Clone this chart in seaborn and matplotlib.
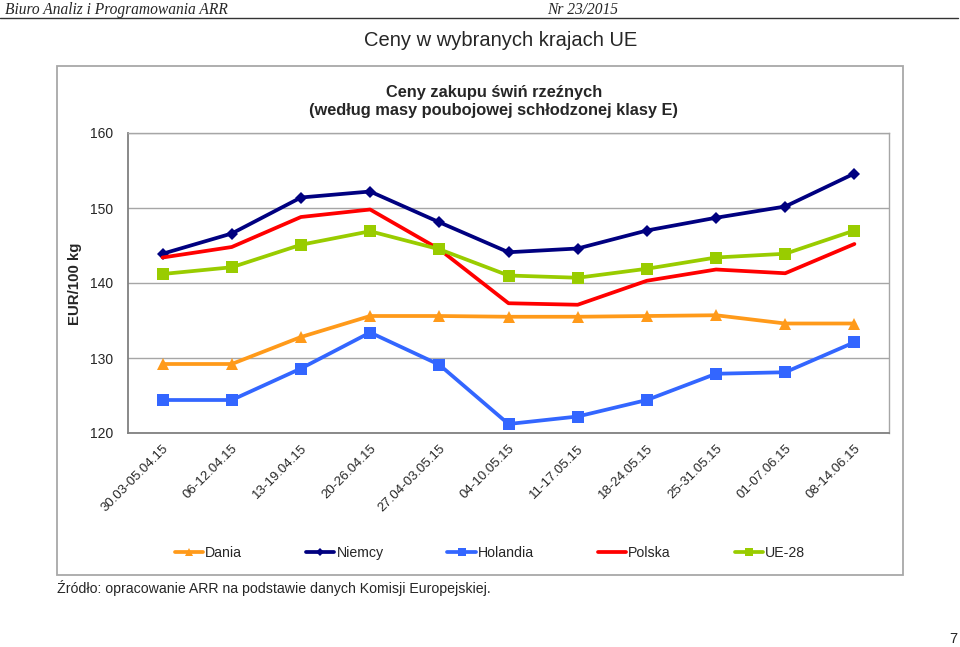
import matplotlib
matplotlib.use("Agg")
import matplotlib.pyplot as plt
import matplotlib.transforms as mtransforms
import seaborn as sns
import pandas as pd
from matplotlib.patches import Rectangle
from matplotlib.lines import Line2D

# ---- data ----
weeks = ["30.03-05.04.15", "06-12.04.15", "13-19.04.15", "20-26.04.15",
         "27.04-03.05.15", "04-10.05.15", "11-17.05.15", "18-24.05.15",
         "25-31.05.15", "01-07.06.15", "08-14.06.15"]
dania = [129.2, 129.2, 132.8, 135.6, 135.6, 135.5, 135.5, 135.6, 135.7, 134.6, 134.6]
niemcy = [143.9, 146.6, 151.4, 152.2, 148.1, 144.1, 144.6, 147.0, 148.7, 150.2, 154.6]
holandia = [124.4, 124.4, 128.6, 133.4, 129.1, 121.2, 122.2, 124.4, 127.9, 128.1, 132.1]
polska = [143.4, 144.8, 148.8, 149.8, 144.5, 137.3, 137.1, 140.3, 141.8, 141.3, 145.2]
ue28 = [141.2, 142.1, 145.1, 146.9, 144.5, 141.0, 140.7, 141.9, 143.4, 143.9, 147.0]
y_ticks = [120, 130, 140, 150, 160]

series_names = ["Dania", "Niemcy", "Holandia", "Polska", "UE-28"]
series_vals = [dania, niemcy, holandia, polska, ue28]

# ---- styles ----
styles = {
    "Dania":    dict(color="#FF9A1A", marker="^", ms=8.5),
    "Niemcy":   dict(color="#000080", marker="D", ms=6.0),
    "Holandia": dict(color="#3366FF", marker="s", ms=8.0),
    "Polska":   dict(color="#FF0000", marker=None, ms=0),
    "UE-28":    dict(color="#99CC00", marker="s", ms=8.6),
}

sns.set_style("white")
plt.rcParams["font.family"] = ["Liberation Sans", "DejaVu Sans"]

W, H = 960, 647
fig = plt.figure(figsize=(W / 100, H / 100), dpi=100)
fig.patch.set_facecolor("white")

def fx(px):
    return px / W

def fy(py):
    return 1 - py / H

# chart box
fig.add_artist(Rectangle((fx(57), fy(575)), (903 - 57) / W, (575 - 66) / H,
                         transform=fig.transFigure, fill=False,
                         edgecolor="#A8A8A8", linewidth=1.3))

ax = fig.add_axes([fx(128), fy(433), (889 - 128) / W, (433 - 133) / H])
ax.set_facecolor("white")

rows = []
for name, vals in zip(series_names, series_vals):
    for i, (w, v) in enumerate(zip(weeks, vals)):
        rows.append(dict(seria=name, tydzien=w, idx=i, cena=v))
df = pd.DataFrame(rows)

for name in series_names:
    st = styles[name]
    sub = df[df["seria"] == name]
    sns.lineplot(data=sub, x="idx", y="cena", ax=ax, color=st["color"],
                 linewidth=2.7, marker=st["marker"], markersize=st["ms"],
                 markeredgewidth=0, legend=False, zorder=3)

ax.set_xlim(-0.5, len(weeks) - 0.5)
ax.set_ylim(y_ticks[0], y_ticks[-1])
ax.set_yticks(y_ticks)
ax.set_xticks(range(len(weeks)))
ax.set_xticks([i - 0.5 for i in range(len(weeks) + 1)], minor=True)
ax.set_xticklabels(weeks, rotation=45, ha="right", va="top",
                   rotation_mode="anchor", fontsize=9.5)
offset = mtransforms.ScaledTranslation(3 / 100, 0, fig.dpi_scale_trans)
for lbl in ax.get_xticklabels():
    lbl.set_transform(lbl.get_transform() + offset)
ax.tick_params(axis="x", which="major", length=0, pad=7)
ax.tick_params(axis="x", which="minor", length=4, color="#808080", width=1)
ax.tick_params(axis="y", which="major", length=4, color="#808080", width=1,
               pad=6.5, labelsize=10)
ax.set_xlabel("")
ax.set_ylabel("")
ax.yaxis.grid(True, color="#A6A6A6", linewidth=1.0)
ax.xaxis.grid(False)
ax.set_axisbelow(True)
for side in ["top", "right"]:
    ax.spines[side].set_color("#A6A6A6")
    ax.spines[side].set_linewidth(1.0)
for side in ["left", "bottom"]:
    ax.spines[side].set_color("#808080")
    ax.spines[side].set_linewidth(1.3)

# legend
handles = []
for name in series_names:
    st = styles[name]
    handles.append(Line2D([0], [0], color=st["color"], linewidth=2.7,
                          marker=st["marker"], markersize=st["ms"] * 0.75,
                          markeredgewidth=0))
fig.legend(handles, series_names, loc="center", bbox_to_anchor=(fx(490), fy(553)),
           ncol=5, frameon=False, handlelength=2.0, handletextpad=0.15,
           columnspacing=4.5, fontsize=10.2)

# texts
fig.text(fx(5), fy(14), "Biuro Analiz i Programowania ARR", family="Liberation Serif",
         style="italic", fontsize=11.2, va="baseline", ha="left")
fig.text(fx(547), fy(14), "Nr 23/2015", family="Liberation Serif",
         style="italic", fontsize=11.2, va="baseline", ha="left")
fig.add_artist(Line2D([0, fx(958)], [fy(17.5), fy(17.5)], transform=fig.transFigure,
                      color="#333333", linewidth=1.0))
fig.text(fx(501), fy(40), "Ceny w wybranych krajach UE", fontsize=14.5,
         ha="center", va="center")
fig.text(fx(494), fy(92), "Ceny zakupu świń rzeźnych", fontsize=11.8,
         weight="bold", ha="center", va="center")
fig.text(fx(494), fy(111), "(według masy poubojowej schłodzonej klasy E)", fontsize=11.8,
         weight="bold", ha="center", va="center")
fig.text(fx(75), fy(284), "EUR/100 kg", fontsize=10.8, weight="bold",
         rotation=90, ha="center", va="center")
fig.text(fx(57), fy(588), "Źródło: opracowanie ARR na podstawie danych Komisji Europejskiej.",
         fontsize=10.2, ha="left", va="center")
fig.text(fx(953), fy(639), "7", fontsize=10.5, ha="center", va="center")

fig.savefig("out.png", dpi=100, facecolor="white")
